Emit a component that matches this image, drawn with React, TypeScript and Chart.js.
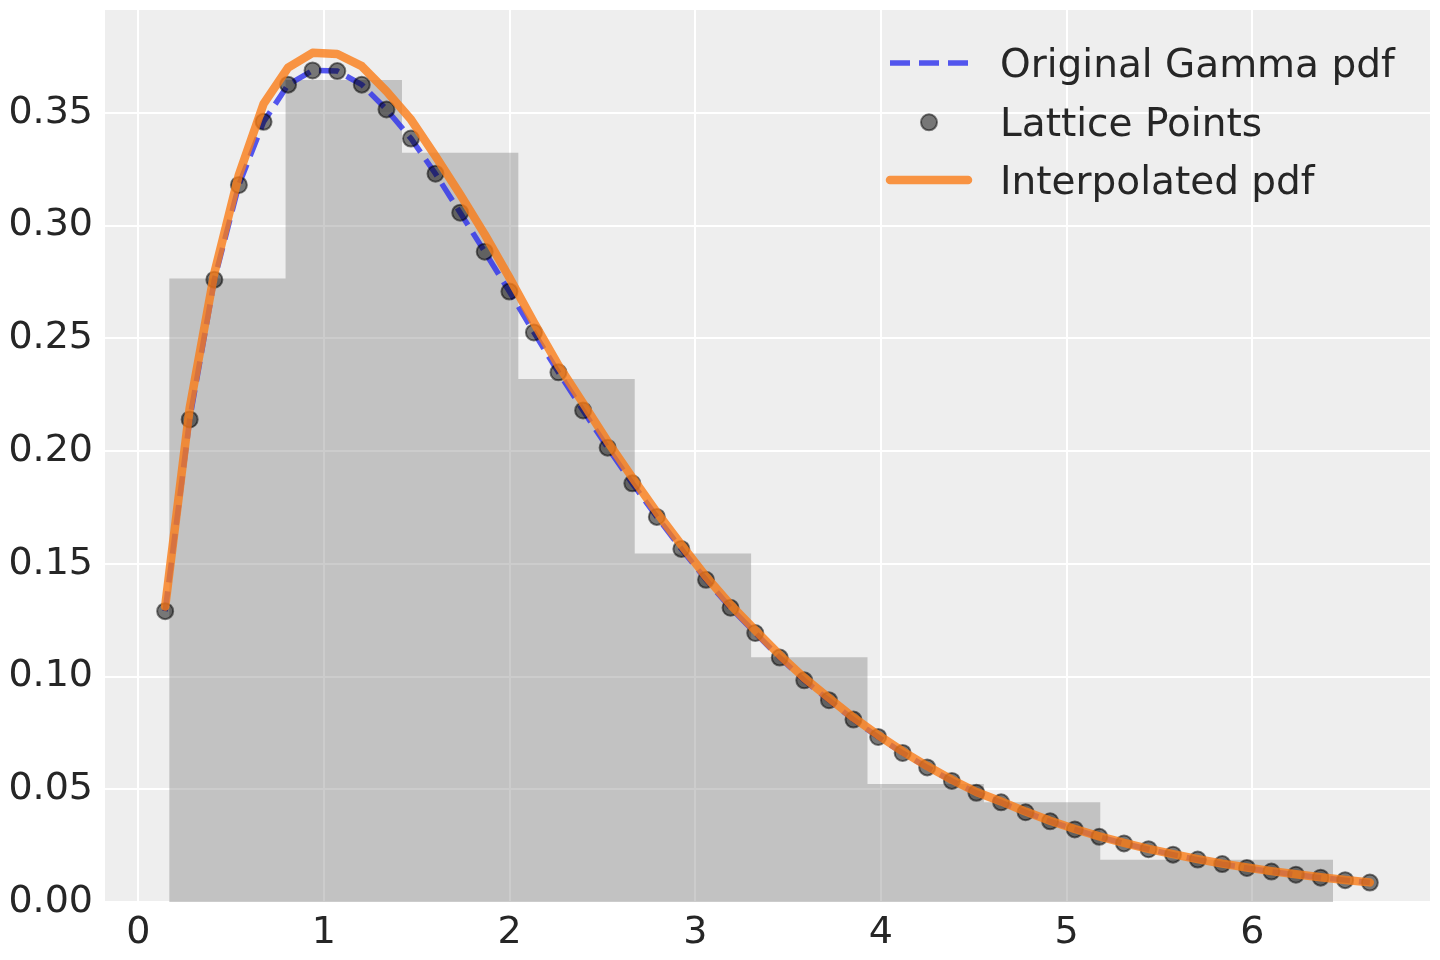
import React, { useEffect, useRef } from 'react';
import { Chart, registerables } from 'chart.js';

Chart.register(...registerables);

// lattice where the gamma pdf was sampled
const latticeX = [
  0.145, 0.277, 0.410, 0.542, 0.675, 0.807, 0.939, 1.072, 1.204, 1.337,
  1.469, 1.601, 1.734, 1.866, 1.999, 2.131, 2.263, 2.396, 2.528, 2.661,
  2.793, 2.925, 3.058, 3.190, 3.323, 3.455, 3.587, 3.720, 3.852, 3.985,
  4.117, 4.249, 4.382, 4.514, 4.647, 4.779, 4.911, 5.044, 5.176, 5.309,
  5.441, 5.573, 5.706, 5.838, 5.971, 6.103, 6.235, 6.368, 6.500, 6.633,
];

const latticePdf = [
  0.129, 0.214, 0.276, 0.318, 0.346, 0.3625, 0.3688, 0.3685, 0.3625, 0.3515,
  0.3386, 0.323, 0.3057, 0.2884, 0.2707, 0.2526, 0.2349, 0.218, 0.2015, 0.1857,
  0.1708, 0.1566, 0.1429, 0.1305, 0.1193, 0.1084, 0.0983, 0.0895, 0.0809, 0.0732,
  0.0661, 0.0597, 0.0537, 0.0484, 0.0442, 0.0398, 0.0358, 0.0322, 0.0289, 0.026,
  0.0234, 0.021, 0.0188, 0.0168, 0.0151, 0.0135, 0.0121, 0.0108, 0.0097, 0.0086,
];

const interpPdf = [
  0.131, 0.219, 0.279, 0.3225, 0.354, 0.370, 0.3766, 0.3761, 0.3707, 0.3596,
  0.347, 0.3308, 0.3138, 0.2961, 0.2769, 0.257, 0.238, 0.2212, 0.2042, 0.1882,
  0.1728, 0.1584, 0.1443, 0.1318, 0.1205, 0.1095, 0.0994, 0.0905, 0.0818, 0.074,
  0.0668, 0.0603, 0.0542, 0.0488, 0.0446, 0.0401, 0.036, 0.0324, 0.0291, 0.0262,
  0.0236, 0.0212, 0.019, 0.017, 0.0153, 0.0137, 0.0123, 0.011, 0.0098, 0.0087,
];

// histogram of the sample (density)
const binEdges = [0.1667, 0.7935, 1.4203, 2.0471, 2.6739, 3.3007, 3.9275, 4.5543, 5.1811, 5.8079, 6.4347];
const binDensity = [0.2765, 0.3645, 0.3323, 0.2319, 0.1546, 0.1085, 0.0523, 0.0442, 0.0187, 0.0187];

const xTicks = [0, 1, 2, 3, 4, 5, 6];
const yTicks = [0, 0.05, 0.1, 0.15, 0.2, 0.25, 0.3, 0.35];

const legendLabels = ['Original Gamma pdf', 'Lattice Points', 'Interpolated pdf'];

const FONT = '"DejaVu Sans", sans-serif';
const TEXT = '#262626';
const BLUE = 'rgba(42,46,236,0.8)';
const ORANGE = 'rgba(250,124,23,0.8)';
const DOT = 'rgba(0,0,0,0.5)';
const HIST = 'rgba(128,128,128,0.4)';

const plotBackground = {
  id: 'plotBackground',
  beforeDraw(chart: any) {
    const { ctx, chartArea: a } = chart;
    ctx.save();
    ctx.fillStyle = '#eeeeee';
    ctx.fillRect(a.left, a.top, a.right - a.left, a.bottom - a.top);
    ctx.restore();
  },
};

// legend drawn inside the plot, upper right, no frame
const insideLegend = {
  id: 'insideLegend',
  afterDraw(chart: any) {
    const { ctx, chartArea: a } = chart;
    const x0 = a.right - 540;
    const x1 = x0 + 78;
    const tx = x0 + 110;
    const rows = [a.top + 53, a.top + 112.3, a.top + 170];
    ctx.save();

    ctx.strokeStyle = BLUE;
    ctx.lineWidth = 5.5;
    ctx.lineCap = 'butt';
    ctx.setLineDash([20, 9]);
    ctx.beginPath();
    ctx.moveTo(x0, rows[0]);
    ctx.lineTo(x1, rows[0]);
    ctx.stroke();
    ctx.setLineDash([]);

    ctx.beginPath();
    ctx.arc((x0 + x1) / 2, rows[1], 8, 0, Math.PI * 2);
    ctx.fillStyle = DOT;
    ctx.fill();
    ctx.lineWidth = 2;
    ctx.strokeStyle = DOT;
    ctx.stroke();

    ctx.strokeStyle = ORANGE;
    ctx.lineWidth = 8.5;
    ctx.lineCap = 'round';
    ctx.beginPath();
    ctx.moveTo(x0, rows[2]);
    ctx.lineTo(x1, rows[2]);
    ctx.stroke();

    ctx.font = `39px ${FONT}`;
    ctx.fillStyle = TEXT;
    ctx.textAlign = 'left';
    ctx.textBaseline = 'alphabetic';
    legendLabels.forEach((t, i) => ctx.fillText(t, tx, rows[i] + 13.5));
    ctx.restore();
  },
};

const App: React.FC = () => {
  const canvasRef = useRef<HTMLCanvasElement>(null);
  const chartRef = useRef<Chart | null>(null);

  useEffect(() => {
    document.body.style.margin = '0';
    if (chartRef.current) {
      chartRef.current.destroy();
    }
    if (!canvasRef.current) return;

    const tickFont = { family: FONT, size: 38 };

    chartRef.current = new Chart(canvasRef.current, {
      type: 'line',
      data: {
        datasets: [
          {
            label: 'Histogram',
            data: binEdges.map((x, i) => ({ x, y: binDensity[Math.min(i, binDensity.length - 1)] })),
            stepped: 'before',
            fill: 'origin',
            backgroundColor: HIST,
            borderColor: 'rgba(0,0,0,0)',
            borderWidth: 0,
            pointRadius: 0,
            order: 3,
          },
          {
            label: legendLabels[0],
            data: latticeX.map((x, i) => ({ x, y: latticePdf[i] })),
            borderColor: BLUE,
            borderWidth: 5.5,
            borderDash: [20, 9],
            pointRadius: 0,
            fill: false,
            order: 2,
          },
          {
            label: legendLabels[1],
            data: latticeX.map((x, i) => ({ x, y: latticePdf[i] })),
            showLine: false,
            pointRadius: 8,
            pointStyle: 'circle',
            pointBackgroundColor: DOT,
            pointBorderColor: DOT,
            pointBorderWidth: 2,
            fill: false,
            order: 1,
          },
          {
            label: legendLabels[2],
            data: latticeX.map((x, i) => ({ x, y: interpPdf[i] })),
            borderColor: ORANGE,
            borderWidth: 8.5,
            borderCapStyle: 'round',
            borderJoinStyle: 'round',
            pointRadius: 0,
            fill: false,
            order: 0,
          },
        ],
      },
      options: {
        responsive: false,
        animation: false,
        events: [],
        layout: { padding: { top: 7, right: 8, left: 0, bottom: 0 } },
        plugins: {
          legend: { display: false },
          tooltip: { enabled: false },
        },
        scales: {
          x: {
            type: 'linear',
            min: -0.179,
            max: 6.957,
            offset: false,
            afterFit: (s: any) => {
              s.height = 58;
              s.paddingLeft = 0;
              s.paddingRight = 0;
            },
            afterBuildTicks: (s: any) => {
              s.ticks = xTicks.map((v) => ({ value: v }));
            },
            grid: { color: '#ffffff', lineWidth: 2, drawTicks: false },
            border: { display: false },
            ticks: {
              padding: 8,
              color: TEXT,
              font: tickFont,
              maxRotation: 0,
              autoSkip: false,
              callback: (v: any) => String(v),
            },
          },
          y: {
            type: 'linear',
            min: 0,
            max: 0.3956,
            afterFit: (s: any) => {
              s.width = 105;
              s.paddingTop = 0;
              s.paddingBottom = 0;
            },
            afterBuildTicks: (s: any) => {
              s.ticks = yTicks.map((v) => ({ value: v }));
            },
            grid: { color: '#ffffff', lineWidth: 2, drawTicks: false },
            border: { display: false },
            ticks: {
              padding: 12,
              color: TEXT,
              font: tickFont,
              callback: (v: any) => Number(v).toFixed(2),
            },
          },
        },
      },
      plugins: [plotBackground, insideLegend],
    } as any);

    return () => {
      if (chartRef.current) {
        chartRef.current.destroy();
        chartRef.current = null;
      }
    };
  }, []);

  return (
    <div style={{ width: 1440, height: 960, background: '#ffffff' }}>
      <canvas ref={canvasRef} width={1440} height={960}></canvas>
    </div>
  );
};

export default App;
